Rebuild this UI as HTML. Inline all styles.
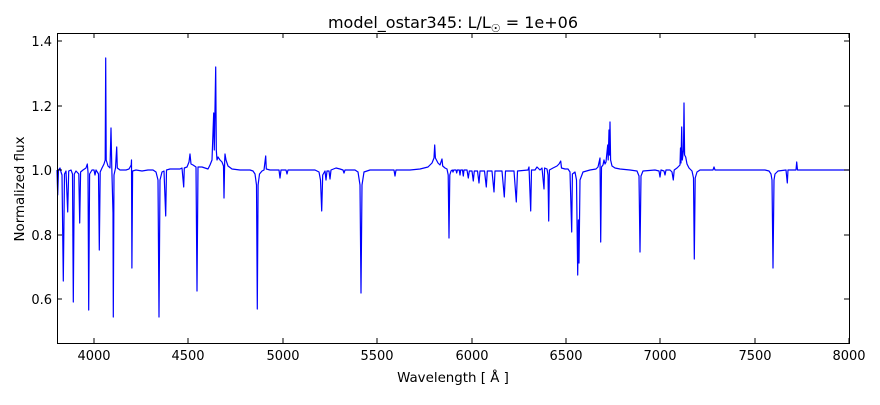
<!DOCTYPE html>
<html><head><style>
body{margin:0;background:#fff;}
svg text{font-family:"DejaVu Sans","Liberation Sans",sans-serif;}
</style></head><body>
<svg width="880" height="400" viewBox="0 0 880 400" xmlns="http://www.w3.org/2000/svg">
<rect width="880" height="400" fill="#fff"/>
<text x="453" y="28" font-size="16" text-anchor="middle">model_ostar345: L/L<tspan font-size="11" dy="4">☉</tspan><tspan dy="-4"> = 1e+06</tspan></text>
<g stroke="#00f" stroke-width="1.2" fill="none" stroke-linejoin="round">
<path d="M57,170 L57.7,195 L58.5,170 L60,168 L61,172 L62,175 L63.3,281 L64.5,174 L66,171 L67.7,212 L68.7,171 L71,170 L72.5,174 L73.3,302 L74.3,174 L76,171 L78.8,174 L79.7,223 L80.6,172 L83,170 L86,168 L87.3,164 L88,172 L88.7,310 L89.6,174 L92,170 L94,170 L95,175 L96,170 L98.5,174 L99.3,250 L100.2,172 L102,168 L104,164 L105.2,160 L105.7,58 L106.2,160 L108,166 L110,168 L111,128 L111.8,168 L113,213 L113.3,317 L114,175 L115.5,168 L116.7,147 L117.3,168 L120,170 L126,170 L129,169 L131.2,165 L131.5,160 L131.9,268 L132.6,171 L136,170 L142,171 L148,170 L153,170 L156,172 L158,180 L159,317 L160,180 L162,172 L164,171 L165.7,216 L166.5,170 L170,169 L176,169 L180,169 L182,168 L183.7,187 L184.3,168 L187,167 L189,162 L190,154 L191,164 L193,165 L196,167 L197,291 L198,167 L202,167 L205,168 L208,169 L210,165 L212,160 L213.7,113 L214.3,150 L215.7,67 L216.3,150 L217,160 L218,157 L220,160 L222,162 L223.5,166 L224,198 L224.7,160 L225,154 L226,160 L228,166 L232,169 L240,170 L250,170 L253,171 L255,174 L256.5,185 L257.3,309 L258.1,185 L259.5,174 L262,171 L264,170 L265.7,156 L266.3,169 L270,170 L279,170 L280,178 L281,170 L286,170 L287,174 L288,170 L300,170 L315,170 L319,172 L320.5,180 L321.7,211 L322.7,175 L325,171 L326,180 L327,171 L329,171 L330,179 L331,170 L336,168 L340,169 L343,170 L344,173 L345,170 L355,170 L358,172 L360,185 L361,293 L362,185 L364,172 L370,170 L394,170 L395,176 L396,170 L410,170 L420,169 L428,167 L432,163 L434,158 L434.7,145 L435.4,158 L438,163 L440,165 L442,159 L442.7,166 L445,168 L447,169 L448.2,175 L449,238 L449.8,175 L451,171 L452.3,170 L453,172 L453.7,170 L456,170 L456.7,173 L457.4,170 L459.3,170 L460,175 L460.7,170 L462.5,170 L463.3,176 L464,170 L467,170 L468.3,178 L469.3,171 L472,171 L473.3,181 L474.3,171 L477.5,171 L479,183 L480,171 L484.5,171 L486.3,187 L487.3,171 L492,171 L494,192 L495,171 L502,171 L504.3,197 L505.5,171 L514,171 L516.3,202 L517.5,171 L528,170 L529,167 L530.7,211 L531.5,170 L535,170 L537,167 L540,170 L542,168 L544,189 L544.6,168 L547,169 L548,175 L548.7,221 L549.4,170 L553,168 L557,166 L559,164 L560.7,161 L561.5,168 L565,169 L568,169 L570,172 L571.7,232 L572.4,174 L575,172 L576.5,180 L577.7,275 L578.4,220 L579,263 L580,180 L583,172 L590,170 L596,169 L598,167 L600,158 L600.7,242 L601.5,167 L603,165 L604,160 L605,164 L606,162 L607.7,145 L608.2,160 L609,130 L609.5,155 L610,122 L610.6,160 L612,166 L615,168 L620,169 L630,170 L637,171 L639,176 L640,252 L641,176 L643,171 L655,170 L659,171 L660,177 L661,170 L664,171 L665,175 L666,170 L670,170 L672,172 L673.3,180 L674.2,170 L677,168 L680,165 L680.5,148 L681,163 L681.7,127 L682.3,160 L683.5,150 L684,103 L684.6,155 L685.7,157 L687,164 L689,168 L692,171 L693.5,178 L694.3,259 L695.2,178 L697,172 L700,170 L713,170 L714,167 L715,170 L740,170 L765,170 L769,171 L771,174 L772,180 L773,268 L774,180 L775,174 L778,171 L786,170 L787.3,183 L788,170 L796,170 L796.7,162 L797.5,170 L849,170"/>
</g>
<rect x="57.5" y="33.5" width="792" height="310" fill="none" stroke="#000" stroke-width="1"/>
<g stroke="#000" stroke-width="1">
<path d="M94,343v-5M94,33v5M188,343v-5M188,33v5M283,343v-5M283,33v5M377,343v-5M377,33v5M472,343v-5M472,33v5M566,343v-5M566,33v5M660,343v-5M660,33v5M755,343v-5M755,33v5M849,343v-5M849,33v5"/>
<path d="M57,41h5M849,41h-5M57,106h5M849,106h-5M57,170h5M849,170h-5M57,235h5M849,235h-5M57,299h5M849,299h-5"/>
</g>
<g font-size="13" text-anchor="middle">
<text x="94" y="360">4000</text><text x="188" y="360">4500</text><text x="283" y="360">5000</text><text x="377" y="360">5500</text><text x="472" y="360">6000</text><text x="566" y="360">6500</text><text x="660" y="360">7000</text><text x="755" y="360">7500</text><text x="849" y="360">8000</text>
</g>
<g font-size="13" text-anchor="end">
<text x="52" y="46">1.4</text><text x="52" y="111">1.2</text><text x="52" y="175">1.0</text><text x="52" y="240">0.8</text><text x="52" y="304">0.6</text>
</g>
<text x="453" y="382" font-size="13.4" text-anchor="middle">Wavelength [ Å ]</text>
<text transform="translate(24,189) rotate(-90)" font-size="13.4" text-anchor="middle">Normalized flux</text>
</svg>
</body></html>
